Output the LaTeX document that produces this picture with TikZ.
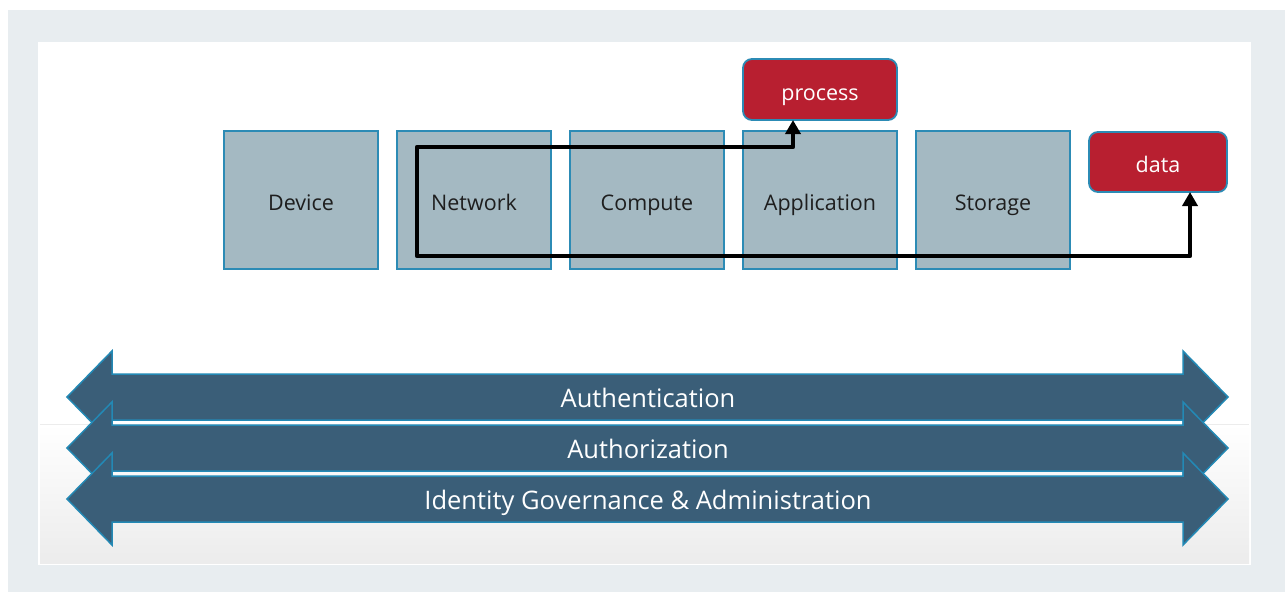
\documentclass[tikz,border=0pt]{standalone}
\usepackage{fontspec}
\setmainfont{Open Sans}
\usetikzlibrary{arrows.meta}
\definecolor{bggray}{HTML}{E8EDF0}
\definecolor{boxfill}{HTML}{A4B9C2}
\definecolor{boxline}{HTML}{2C8BB5}
\definecolor{redfill}{HTML}{B81F30}
\definecolor{bandfill}{HTML}{3A5E78}
\definecolor{bandline}{HTML}{2389B5}
\definecolor{labeltext}{HTML}{1E1E1E}
\definecolor{lowgray}{HTML}{ECECEC}
\tikzset{
  layerbox/.style={draw=boxline, line width=1.8pt, fill=boxfill, minimum width=154pt, minimum height=138pt, inner sep=0pt, outer sep=0pt, text=labeltext, font=\fontsize{21.5}{24}\selectfont, text height=21pt, text depth=0pt},
  redbox/.style={draw=boxline, line width=1.8pt, fill=redfill, rounded corners=9pt, inner sep=0pt, outer sep=0pt, text=white, font=\fontsize{21.5}{24}\selectfont, text height=21pt, text depth=0pt},
  flow/.style={line width=4.5pt, black, line join=round, {Triangle[length=14pt,width=15pt]}-{Triangle[length=14pt,width=15pt]}},
  band/.style={draw=bandline, line width=1.5pt, fill=bandfill, line join=miter},
  bandtext/.style={text=white, font=\fontsize{25.5}{28}\selectfont, inner sep=0pt, text height=20pt, text depth=0pt},
}
\begin{document}
\begin{tikzpicture}[x=1pt,y=-1pt]
\useasboundingbox (0,0) rectangle (1285,592);
% backgrounds
\fill[bggray] (8,10) rectangle (1285,592);
\fill[white] (38,42) rectangle (1251,565);
\shade[top color=white, bottom color=lowgray] (40,424) rectangle (1249,563);
\draw[line width=0.6pt, color=lowgray] (40,424) -- (1249,424);

% layer boxes
\node[layerbox] (device) at (301,200) {Device};
\node[layerbox] (network) at (474,200) {Network};
\node[layerbox] (compute) at (647,200) {Compute};
\node[layerbox] (application) at (820,200) {Application};
\node[layerbox] (storage) at (993,200) {Storage};

% red boxes
\node[redbox, minimum width=154pt, minimum height=61pt] (process) at (820,89.5) {process};
\node[redbox, minimum width=138pt, minimum height=60pt] (data) at (1158,162) {data};

% flow connector
\coordinate (c1) at (417,147);
\coordinate (c2) at (417,256);
\draw[flow] ([xshift=-27pt]process.south) |- (c1) -- (c2) -| ([xshift=32pt]data.south);

% bands
\foreach \cy/\nm/\txt in {397/authn/Authentication, 448/authz/Authorization, 499/iga/{Identity Governance \& Administration}}{
  \draw[band] (67,\cy) -- (112,\cy-46) -- (112,\cy-23) -- (1183,\cy-23) -- (1183,\cy-46) -- (1228,\cy) -- (1183,\cy+46) -- (1183,\cy+23) -- (112,\cy+23) -- (112,\cy+46) -- cycle;
  \node[bandtext] (\nm) at (648,\cy) {\txt};
}
\end{tikzpicture}
\end{document}
